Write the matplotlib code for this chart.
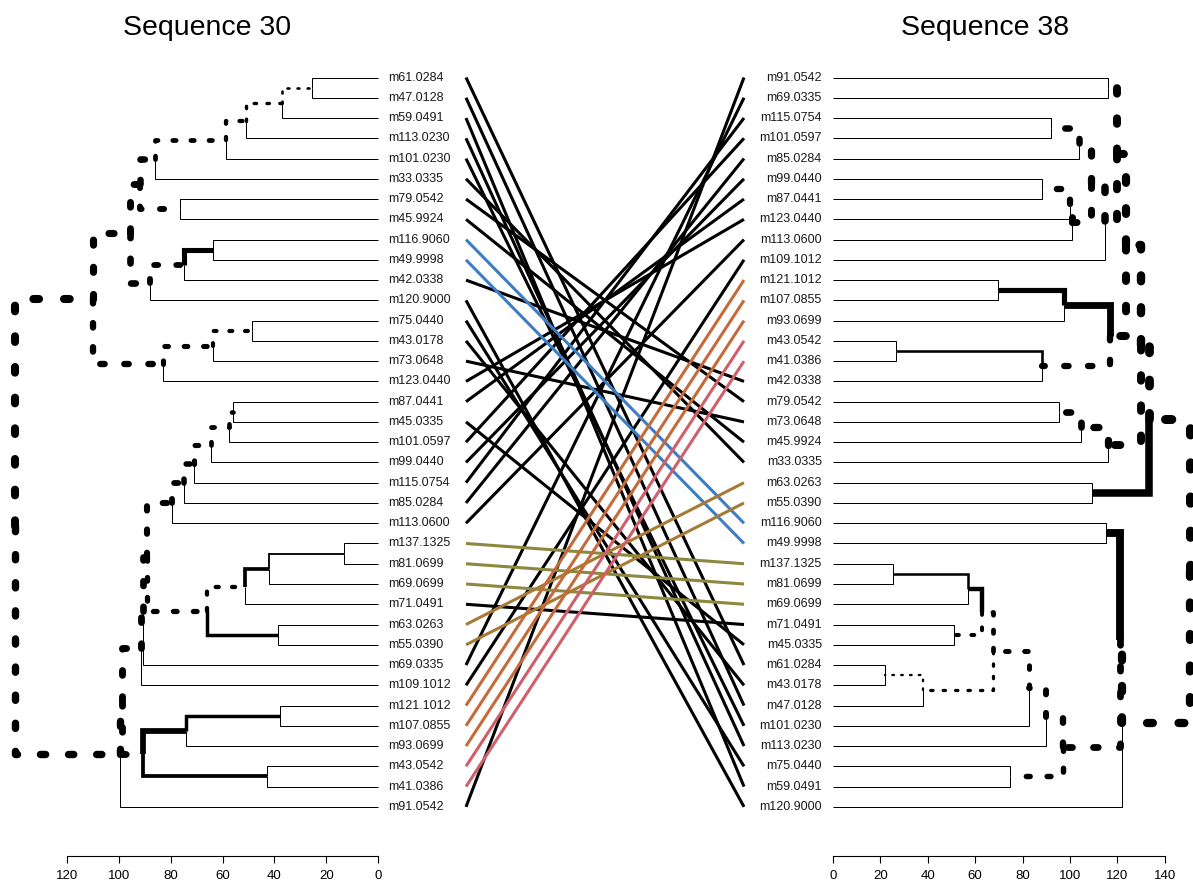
"""Tanglegram of two hierarchical clusterings (Sequence 30 vs Sequence 38)."""

import matplotlib

matplotlib.use("Agg")
import matplotlib.pyplot as plt

plt.rcParams["font.family"] = ["Liberation Sans", "DejaVu Sans"]

LEFT_TITLE = "Sequence 30"
RIGHT_TITLE = "Sequence 38"

# leaf order, top to bottom
LEFT_LABELS = [
    "m61.0284", "m47.0128", "m59.0491", "m113.0230", "m101.0230", "m33.0335",
    "m79.0542", "m45.9924", "m116.9060", "m49.9998", "m42.0338", "m120.9000",
    "m75.0440", "m43.0178", "m73.0648", "m123.0440", "m87.0441", "m45.0335",
    "m101.0597", "m99.0440", "m115.0754", "m85.0284", "m113.0600", "m137.1325",
    "m81.0699", "m69.0699", "m71.0491", "m63.0263", "m55.0390", "m69.0335",
    "m109.1012", "m121.1012", "m107.0855", "m93.0699", "m43.0542", "m41.0386",
    "m91.0542",
]
RIGHT_LABELS = [
    "m91.0542", "m69.0335", "m115.0754", "m101.0597", "m85.0284", "m99.0440",
    "m87.0441", "m123.0440", "m113.0600", "m109.1012", "m121.1012", "m107.0855",
    "m93.0699", "m43.0542", "m41.0386", "m42.0338", "m79.0542", "m73.0648",
    "m45.9924", "m33.0335", "m63.0263", "m55.0390", "m116.9060", "m49.9998",
    "m137.1325", "m81.0699", "m69.0699", "m71.0491", "m45.0335", "m61.0284",
    "m43.0178", "m47.0128", "m101.0230", "m113.0230", "m75.0440", "m59.0491",
    "m120.9000",
]

# merges: (node, child_a, child_b, height)
LEFT_MERGES = [
    ("a1", "m61.0284", "m47.0128", 25.5),
    ("a2", "a1", "m59.0491", 37.0),
    ("a3", "a2", "m113.0230", 51.0),
    ("a4", "a3", "m101.0230", 58.7),
    ("a5", "a4", "m33.0335", 86.0),
    ("a6", "m79.0542", "m45.9924", 76.5),
    ("a7", "a5", "a6", 92.0),
    ("a8", "m116.9060", "m49.9998", 63.7),
    ("a9", "a8", "m42.0338", 75.0),
    ("a10", "a9", "m120.9000", 88.0),
    ("a11", "a7", "a10", 95.7),
    ("a12", "m75.0440", "m43.0178", 48.6),
    ("a13", "a12", "m73.0648", 63.7),
    ("a14", "a13", "m123.0440", 83.0),
    ("a15", "a11", "a14", 110.0),
    ("a16", "m87.0441", "m45.0335", 56.0),
    ("a17", "a16", "m101.0597", 57.5),
    ("a18", "a17", "m99.0440", 64.6),
    ("a19", "a18", "m115.0754", 71.0),
    ("a20", "a19", "m85.0284", 75.0),
    ("a21", "a20", "m113.0600", 79.6),
    ("a22", "m137.1325", "m81.0699", 13.0),
    ("a23", "a22", "m69.0699", 42.0),
    ("a24", "a23", "m71.0491", 51.4),
    ("a25", "m63.0263", "m55.0390", 38.5),
    ("a26", "a24", "a25", 66.2),
    ("a27", "a21", "a26", 89.0),
    ("a28", "a27", "m69.0335", 90.7),
    ("a29", "a28", "m109.1012", 91.5),
    ("a30", "m121.1012", "m107.0855", 38.0),
    ("a31", "a30", "m93.0699", 74.0),
    ("a32", "m43.0542", "m41.0386", 43.0),
    ("a33", "a31", "a32", 90.7),
    ("a34", "a29", "a33", 99.0),
    ("a35", "a34", "m91.0542", 99.5),
    ("a36", "a15", "a35", 140.0),
]
RIGHT_MERGES = [
    ("b1", "m91.0542", "m69.0335", 116.0),
    ("b2", "m115.0754", "m101.0597", 92.0),
    ("b3", "b2", "m85.0284", 104.0),
    ("b4", "m99.0440", "m87.0441", 88.0),
    ("b5", "b4", "m123.0440", 100.0),
    ("b6", "b5", "m113.0600", 101.0),
    ("b7", "b3", "b6", 109.0),
    ("b8", "b7", "m109.1012", 114.7),
    ("b9", "b1", "b8", 120.0),
    ("b10", "m121.1012", "m107.0855", 69.7),
    ("b11", "b10", "m93.0699", 97.5),
    ("b12", "m43.0542", "m41.0386", 26.7),
    ("b13", "b12", "m42.0338", 88.0),
    ("b14", "b11", "b13", 117.0),
    ("b15", "b9", "b14", 123.5),
    ("b16", "m79.0542", "m73.0648", 95.4),
    ("b17", "b16", "m45.9924", 104.6),
    ("b18", "b17", "m33.0335", 116.0),
    ("b19", "b15", "b18", 130.0),
    ("b20", "m63.0263", "m55.0390", 109.3),
    ("b21", "b19", "b20", 133.5),
    ("b22", "m116.9060", "m49.9998", 115.0),
    ("b23", "m137.1325", "m81.0699", 25.3),
    ("b24", "b23", "m69.0699", 57.0),
    ("b25", "m71.0491", "m45.0335", 51.0),
    ("b26", "b24", "b25", 63.0),
    ("b27", "m61.0284", "m43.0178", 22.0),
    ("b28", "b27", "m47.0128", 38.0),
    ("b29", "b26", "b28", 67.5),
    ("b30", "b29", "m101.0230", 82.7),
    ("b31", "b30", "m113.0230", 90.0),
    ("b32", "m75.0440", "m59.0491", 74.7),
    ("b33", "b31", "b32", 97.0),
    ("b34", "b22", "b33", 121.0),
    ("b35", "b34", "m120.9000", 122.0),
    ("b36", "b21", "b35", 150.5),
]

# shared subtrees and the colours of their connecting lines
COMMON_GROUPS = [
    ["m116.9060", "m49.9998"],
    ["m121.1012", "m107.0855", "m93.0699"],
    ["m43.0542", "m41.0386"],
    ["m137.1325", "m81.0699", "m69.0699"],
    ["m63.0263", "m55.0390"],
]
GROUP_COLORS = ["#3D7DC3", "#C46A3B", "#CF5F6A", "#8C883E", "#A67B36"]

LEFT_TICKS = [0, 20, 40, 60, 80, 100, 120]
RIGHT_TICKS = [0, 20, 40, 60, 80, 100, 120, 140]

W, H = 1193, 888
TOP_PX, AXIS_PX = 60, 856
LEAF0_PX, LEAF_STEP_PX = 77.5, 20.26


def build_tree(labels, merges):
    """Leaf/node positions, heights, member sets and parent links."""
    pos = {lab: float(i) for i, lab in enumerate(labels)}
    height = {lab: 0.0 for lab in labels}
    members = {lab: frozenset([lab]) for lab in labels}
    parent = {}
    for name, a, b, h in merges:
        pos[name] = (pos[a] + pos[b]) / 2
        height[name] = h
        members[name] = members[a] | members[b]
        parent[a] = name
        parent[b] = name
    return pos, height, members, parent


def draw_tree(ax, labels, merges, other_clusters):
    pos, height, members, parent = build_tree(labels, merges)
    hmax = max(m[3] for m in merges)
    # thin edges first, thick ones on top
    for child in sorted(parent, key=lambda c: height[c]):
        par = parent[child]
        hc, hp = height[child], height[par]
        xs = [hp, hp, hc]
        ys = [pos[par], pos[child], pos[child]]
        lw = (1.0 + 9.0 * hc / hmax) * 0.72
        if members[child] in other_clusters:
            ax.plot(xs, ys, color="black", lw=lw, solid_capstyle="butt",
                    solid_joinstyle="miter", clip_on=False)
        else:
            ax.plot(xs, ys, color="black", lw=lw, linestyle=(0, (0.7, 3.1)),
                    dash_capstyle="round", dash_joinstyle="round", clip_on=False)
    return members


def style_axis(ax, ticks):
    for side in ("top", "left", "right"):
        ax.spines[side].set_visible(False)
    ax.spines["bottom"].set_bounds(ticks[0], ticks[-1])
    ax.spines["bottom"].set_linewidth(0.8)
    ax.set_xticks(ticks)
    ax.set_yticks([])
    ax.tick_params(axis="x", length=5, width=0.8, labelsize=9.5, pad=5)


fig = plt.figure(figsize=(W / 100, H / 100), dpi=100)
bottom = 1 - AXIS_PX / H
height_frac = (AXIS_PX - TOP_PX) / H
y_top = (TOP_PX - LEAF0_PX) / LEAF_STEP_PX
y_bot = (AXIS_PX - LEAF0_PX) / LEAF_STEP_PX

ax_left = fig.add_axes([0, bottom, 378 / W, height_frac])
ax_right = fig.add_axes([833 / W, bottom, (W - 833) / W, height_frac])
ax_mid = fig.add_axes([466 / W, bottom, (744 - 466) / W, height_frac])

_, _, left_members, _ = build_tree(LEFT_LABELS, LEFT_MERGES)
_, _, right_members, _ = build_tree(RIGHT_LABELS, RIGHT_MERGES)
left_clusters = set(left_members.values())
right_clusters = set(right_members.values())

draw_tree(ax_left, LEFT_LABELS, LEFT_MERGES, right_clusters)
draw_tree(ax_right, RIGHT_LABELS, RIGHT_MERGES, left_clusters)

ax_left.set_xlim(378 / 2.59, 0)
ax_right.set_xlim(0, (W - 833) / 2.37)
for ax in (ax_left, ax_right, ax_mid):
    ax.set_ylim(y_bot, y_top)
    ax.patch.set_visible(False)

style_axis(ax_left, LEFT_TICKS)
style_axis(ax_right, RIGHT_TICKS)

for i, lab in enumerate(LEFT_LABELS):
    ax_left.annotate(lab, xy=(1, i), xycoords=("axes fraction", "data"),
                     xytext=(7.2, 0), textcoords="offset points",
                     ha="left", va="center", fontsize=9, color="#1a1a1a")
for i, lab in enumerate(RIGHT_LABELS):
    ax_right.annotate(lab, xy=(0, i), xycoords=("axes fraction", "data"),
                      xytext=(-8, 0), textcoords="offset points",
                      ha="right", va="center", fontsize=9, color="#1a1a1a")

# connecting lines: black first, shared subtrees in colour on top
line_color = {}
for group, color in zip(COMMON_GROUPS, GROUP_COLORS):
    for lab in group:
        line_color[lab] = color
ax_mid.set_xlim(0, 1)
ax_mid.axis("off")
for i, lab in enumerate(LEFT_LABELS):
    if lab not in line_color:
        ax_mid.plot([0, 1], [i, RIGHT_LABELS.index(lab)], color="black",
                    lw=2.2, solid_capstyle="butt", clip_on=False)
for i, lab in enumerate(LEFT_LABELS):
    if lab in line_color:
        ax_mid.plot([0, 1], [i, RIGHT_LABELS.index(lab)], color=line_color[lab],
                    lw=2.2, solid_capstyle="butt", clip_on=False)

fig.text(207 / W, 1 - 28 / H, LEFT_TITLE, ha="center", va="center", fontsize=20.5)
fig.text(985 / W, 1 - 28 / H, RIGHT_TITLE, ha="center", va="center", fontsize=20.5)

fig.savefig("out.png", dpi=100)
